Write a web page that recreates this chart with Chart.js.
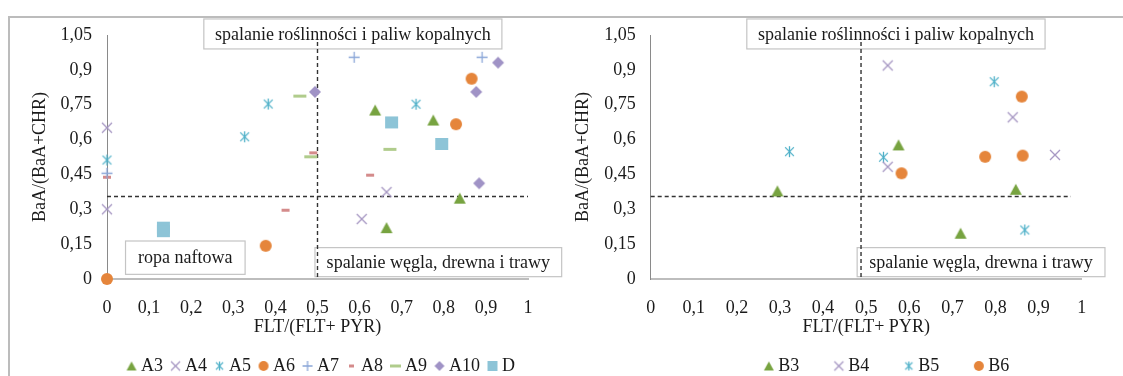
<!DOCTYPE html>
<html>
<head>
<meta charset="utf-8">
<script src="https://cdn.jsdelivr.net/npm/chart.js@4.4.1/dist/chart.umd.min.js"></script>
<style>
  html, body { margin: 0; padding: 0; background: #fff; overflow: hidden; width: 1123px; height: 376px; }
  #frame { position: absolute; left: 8px; top: 16px; width: 1200px; height: 400px;
           border-top: 2px solid #bcbcbc; border-left: 2px solid #bcbcbc; }
  canvas { position: absolute; top: 0; }
  #c1 { left: 0; }
  #c2 { left: 560px; }
</style>
</head>
<body>
<div id="frame"></div>
<canvas id="c1" width="566" height="385"></canvas>
<canvas id="c2" width="563" height="385"></canvas>
<script>
// ticks
const xTicks = [0, 0.1, 0.2, 0.3, 0.4, 0.5, 0.6, 0.7, 0.8, 0.9, 1];
const yTicks = [0, 0.15, 0.3, 0.45, 0.6, 0.75, 0.9, 1.05];

// left chart: FLT/(FLT+PYR) vs BaA/(BaA+CHR)
const a3x = [0.637, 0.775, 0.838, 0.664];
const a3y = [0.727, 0.684, 0.348, 0.221];
const a4x = [0, 0, 0.605, 0.664];
const a4y = [0.651, 0.300, 0.258, 0.374];
const a5x = [0, 0.327, 0.383, 0.734];
const a5y = [0.512, 0.612, 0.753, 0.752];
const a6x = [0, 0.377, 0.829, 0.866];
const a6y = [0, 0.143, 0.666, 0.862];
const a7x = [0, 0.587, 0.891];
const a7y = [0.455, 0.954, 0.954];
const a8x = [0, 0.490, 0.625, 0.424];
const a8y = [0.438, 0.543, 0.447, 0.296];
const a9x = [0.458, 0.672, 0.484];
const a9y = [0.787, 0.558, 0.526];
const a10x = [0.494, 0.877, 0.929, 0.884];
const a10y = [0.805, 0.805, 0.931, 0.412];
const dx_ = [0.134, 0.134, 0.676, 0.795];
const dy_ = [0.221, 0.206, 0.674, 0.581];

// right chart
const b3x = [0.294, 0.575, 0.847, 0.719];
const b3y = [0.379, 0.577, 0.386, 0.197];
const b4x = [0.550, 0.840, 0.550, 0.938];
const b4y = [0.919, 0.696, 0.483, 0.534];
const b5x = [0.322, 0.797, 0.540, 0.868];
const b5y = [0.548, 0.849, 0.524, 0.211];
const b6x = [0.861, 0.582, 0.776, 0.863];
const b6y = [0.785, 0.455, 0.526, 0.531];

// threshold lines
const hLine = 0.355;
const vLineLeft = 0.5;
const vLineRight = 0.488;

const FONT = "'Liberation Serif', 'Times New Roman', serif";
const TXT = '#1a1a1a';
const font = { family: FONT, size: 18 };
const fmt = v => String(+Number(v).toFixed(2)).replace('.', ',');

function marker(shape, color, w, h) {
  h = h || w;
  const c = document.createElement('canvas');
  c.width = w + 4; c.height = h + 4;
  const g = c.getContext('2d');
  const cx = c.width / 2, cy = c.height / 2, rx = w / 2, ry = h / 2;
  g.fillStyle = color; g.strokeStyle = color; g.lineWidth = 1.3;
  g.beginPath();
  if (shape === 'tri') {
    g.moveTo(cx, cy - ry); g.lineTo(cx + rx, cy + ry); g.lineTo(cx - rx, cy + ry); g.closePath(); g.fill();
  } else if (shape === 'circle') {
    g.arc(cx, cy, rx, 0, Math.PI * 2); g.fill();
  } else if (shape === 'rect') {
    g.rect(cx - rx, cy - ry, w, h); g.fill();
  } else if (shape === 'diamond') {
    g.moveTo(cx, cy - ry); g.lineTo(cx + rx, cy); g.lineTo(cx, cy + ry); g.lineTo(cx - rx, cy); g.closePath(); g.fill();
  } else if (shape === 'cross') {
    g.moveTo(cx - rx, cy - ry); g.lineTo(cx + rx, cy + ry); g.moveTo(cx + rx, cy - ry); g.lineTo(cx - rx, cy + ry); g.stroke();
  } else if (shape === 'plus') {
    g.moveTo(cx - rx, cy); g.lineTo(cx + rx, cy); g.moveTo(cx, cy - ry); g.lineTo(cx, cy + ry); g.stroke();
  } else if (shape === 'star') {
    g.moveTo(cx - rx * 0.8, cy - ry * 0.8); g.lineTo(cx + rx * 0.8, cy + ry * 0.8);
    g.moveTo(cx + rx * 0.8, cy - ry * 0.8); g.lineTo(cx - rx * 0.8, cy + ry * 0.8);
    g.moveTo(cx, cy - ry); g.lineTo(cx, cy + ry); g.stroke();
  }
  return c;
}

const green = '#77a340', lilac = '#a596c2', teal = '#4eb0c8', orange = '#e5853b';

function series(label, xs, ys, shape, color, size, legSize) {
  return {
    label: label,
    data: xs.map((x, i) => ({ x: x, y: ys[i] })),
    pointStyle: marker(shape, color, size[0], size[1]),
    legendStyle: marker(shape, color, legSize[0], legSize[1]),
    clip: false
  };
}

const leftSets = [
  series('A3', a3x, a3y, 'tri', green, [12, 11], [10, 9]),
  series('A4', a4x, a4y, 'cross', lilac, [10], [9]),
  series('A5', a5x, a5y, 'star', teal, [11], [9]),
  series('A6', a6x, a6y, 'circle', orange, [12], [10]),
  series('A7', a7x, a7y, 'plus', '#8aa6d8', [11], [10]),
  series('A8', a8x, a8y, 'rect', '#d48b8b', [8, 3], [5, 3]),
  series('A9', a9x, a9y, 'rect', '#b0cc8c', [13, 3], [11, 3]),
  series('A10', a10x, a10y, 'diamond', '#a093c6', [12], [10]),
  series('D', dx_, dy_, 'rect', '#8dc4d7', [13, 12], [10])
];

const rightSets = [
  series('B3', b3x, b3y, 'tri', green, [12, 11], [10, 9]),
  series('B4', b4x, b4y, 'cross', lilac, [10], [9]),
  series('B5', b5x, b5y, 'star', teal, [11], [9]),
  series('B6', b6x, b6y, 'circle', orange, [12], [10])
];

// dashed threshold lines + text boxes
const guides = {
  id: 'guides',
  beforeDatasetsDraw(chart, args, o) {
    const { ctx } = chart;
    const x = chart.scales.x, y = chart.scales.y;
    ctx.save();
    o.boxes.forEach(b => {
      const l = x.getPixelForValue(b.x0), r = x.getPixelForValue(b.x1);
      const t = y.getPixelForValue(b.y1), btm = y.getPixelForValue(b.y0);
      ctx.fillStyle = '#fff';
      ctx.fillRect(l, t, r - l, btm - t);
      ctx.strokeStyle = '#c4c4c4';
      ctx.lineWidth = 1.2;
      ctx.strokeRect(l, t, r - l, btm - t);
    });
    ctx.setLineDash([4, 3]);
    ctx.strokeStyle = '#333';
    ctx.lineWidth = 1.4;
    ctx.beginPath();
    ctx.moveTo(x.getPixelForValue(0), y.getPixelForValue(hLine));
    ctx.lineTo(x.getPixelForValue(o.hEnd), y.getPixelForValue(hLine));
    ctx.moveTo(x.getPixelForValue(o.v), y.getPixelForValue(1.02));
    ctx.lineTo(x.getPixelForValue(o.v), y.getPixelForValue(0));
    ctx.stroke();
    ctx.setLineDash([]);
    ctx.fillStyle = TXT;
    ctx.font = '18px ' + FONT;
    ctx.textAlign = 'center';
    ctx.textBaseline = 'middle';
    o.boxes.forEach(b => {
      const l = x.getPixelForValue(b.x0), r = x.getPixelForValue(b.x1);
      const t = y.getPixelForValue(b.y1), btm = y.getPixelForValue(b.y0);
      ctx.fillText(b.text, (l + r) / 2, (t + btm) / 2 + 1);
    });
    ctx.restore();
  }
};

const shiftLegend = {
  id: 'shiftLegend',
  afterLayout(chart, args, o) {
    chart.legend.left += o.dx;
    chart.legend.right += o.dx;
  }
};

function build(id, sets, cfg) {
  return new Chart(document.getElementById(id), {
    type: 'scatter',
    data: { datasets: sets },
    plugins: [guides, shiftLegend],
    options: {
      responsive: false,
      animation: false,
      layout: { padding: { left: 0, right: cfg.padRight, top: 35, bottom: 0 } },
      scales: {
        x: {
          type: 'linear', min: 0, max: 1,
          afterBuildTicks: s => { s.ticks = xTicks.map(v => ({ value: v })); },
          afterFit: s => { s.height = cfg.xH; },
          grid: { display: false, drawTicks: false },
          border: { color: '#bdbdbd', width: 2 },
          ticks: { padding: 18, color: TXT, font: font, maxRotation: 0, autoSkip: false, callback: fmt },
          title: { display: true, text: 'FLT/(FLT+ PYR)', color: TXT, font: font, padding: { top: 0, bottom: cfg.xTitlePad } }
        },
        y: {
          type: 'linear', min: 0, max: 1.05,
          afterBuildTicks: s => { s.ticks = yTicks.map(v => ({ value: v })); },
          afterFit: s => { s.width = cfg.yW; },
          grid: { display: false, drawTicks: false },
          border: { color: '#8a8a8a', width: 1 },
          ticks: { padding: 15, color: TXT, font: font, autoSkip: false, callback: fmt },
          title: { display: true, text: 'BaA/(BaA+CHR)', color: TXT, font: font, padding: { top: cfg.yTitlePad, bottom: 0 } }
        }
      },
      plugins: {
        tooltip: { enabled: false },
        legend: {
          position: 'bottom',
          labels: {
            usePointStyle: true,
            boxWidth: 1,
            padding: cfg.legPad,
            color: TXT,
            font: font,
            generateLabels: chart => chart.data.datasets.map((d, i) => ({
              text: d.label, pointStyle: d.legendStyle, datasetIndex: i, hidden: false,
              fontColor: TXT, lineWidth: 0, strokeStyle: 'rgba(0,0,0,0)', fillStyle: 'rgba(0,0,0,0)'
            }))
          }
        },
        shiftLegend: { dx: cfg.legShift },
        guides: cfg.guides
      }
    }
  });
}

build('c1', leftSets, {
  padRight: 38, xH: 66, xTitlePad: 7, yW: 107, yTitlePad: 29, legPad: 12, legShift: 59,
  guides: {
    v: vLineLeft, hEnd: 1,
    boxes: [
      { text: 'spalanie roślinności i paliw kopalnych', x0: 0.230, x1: 0.938, y0: 0.990, y1: 1.119 },
      { text: 'ropa naftowa', x0: 0.044, x1: 0.328, y0: 0.020, y1: 0.1635 },
      { text: 'spalanie węgla, drewna i trawy', x0: 0.494, x1: 1.080, y0: 0.010, y1: 0.135 }
    ]
  }
});

build('c2', rightSets, {
  padRight: 41.3, xH: 39, xTitlePad: -19.8, yW: 90.7, yTitlePad: 12, legPad: 39, legShift: 68,
  guides: {
    v: vLineRight, hEnd: 0.975,
    boxes: [
      { text: 'spalanie roślinności i paliw kopalnych', x0: 0.223, x1: 0.915, y0: 0.990, y1: 1.119 },
      { text: 'spalanie węgla, drewna i trawy', x0: 0.479, x1: 1.054, y0: 0.010, y1: 0.135 }
    ]
  }
});
</script>
</body>
</html>
